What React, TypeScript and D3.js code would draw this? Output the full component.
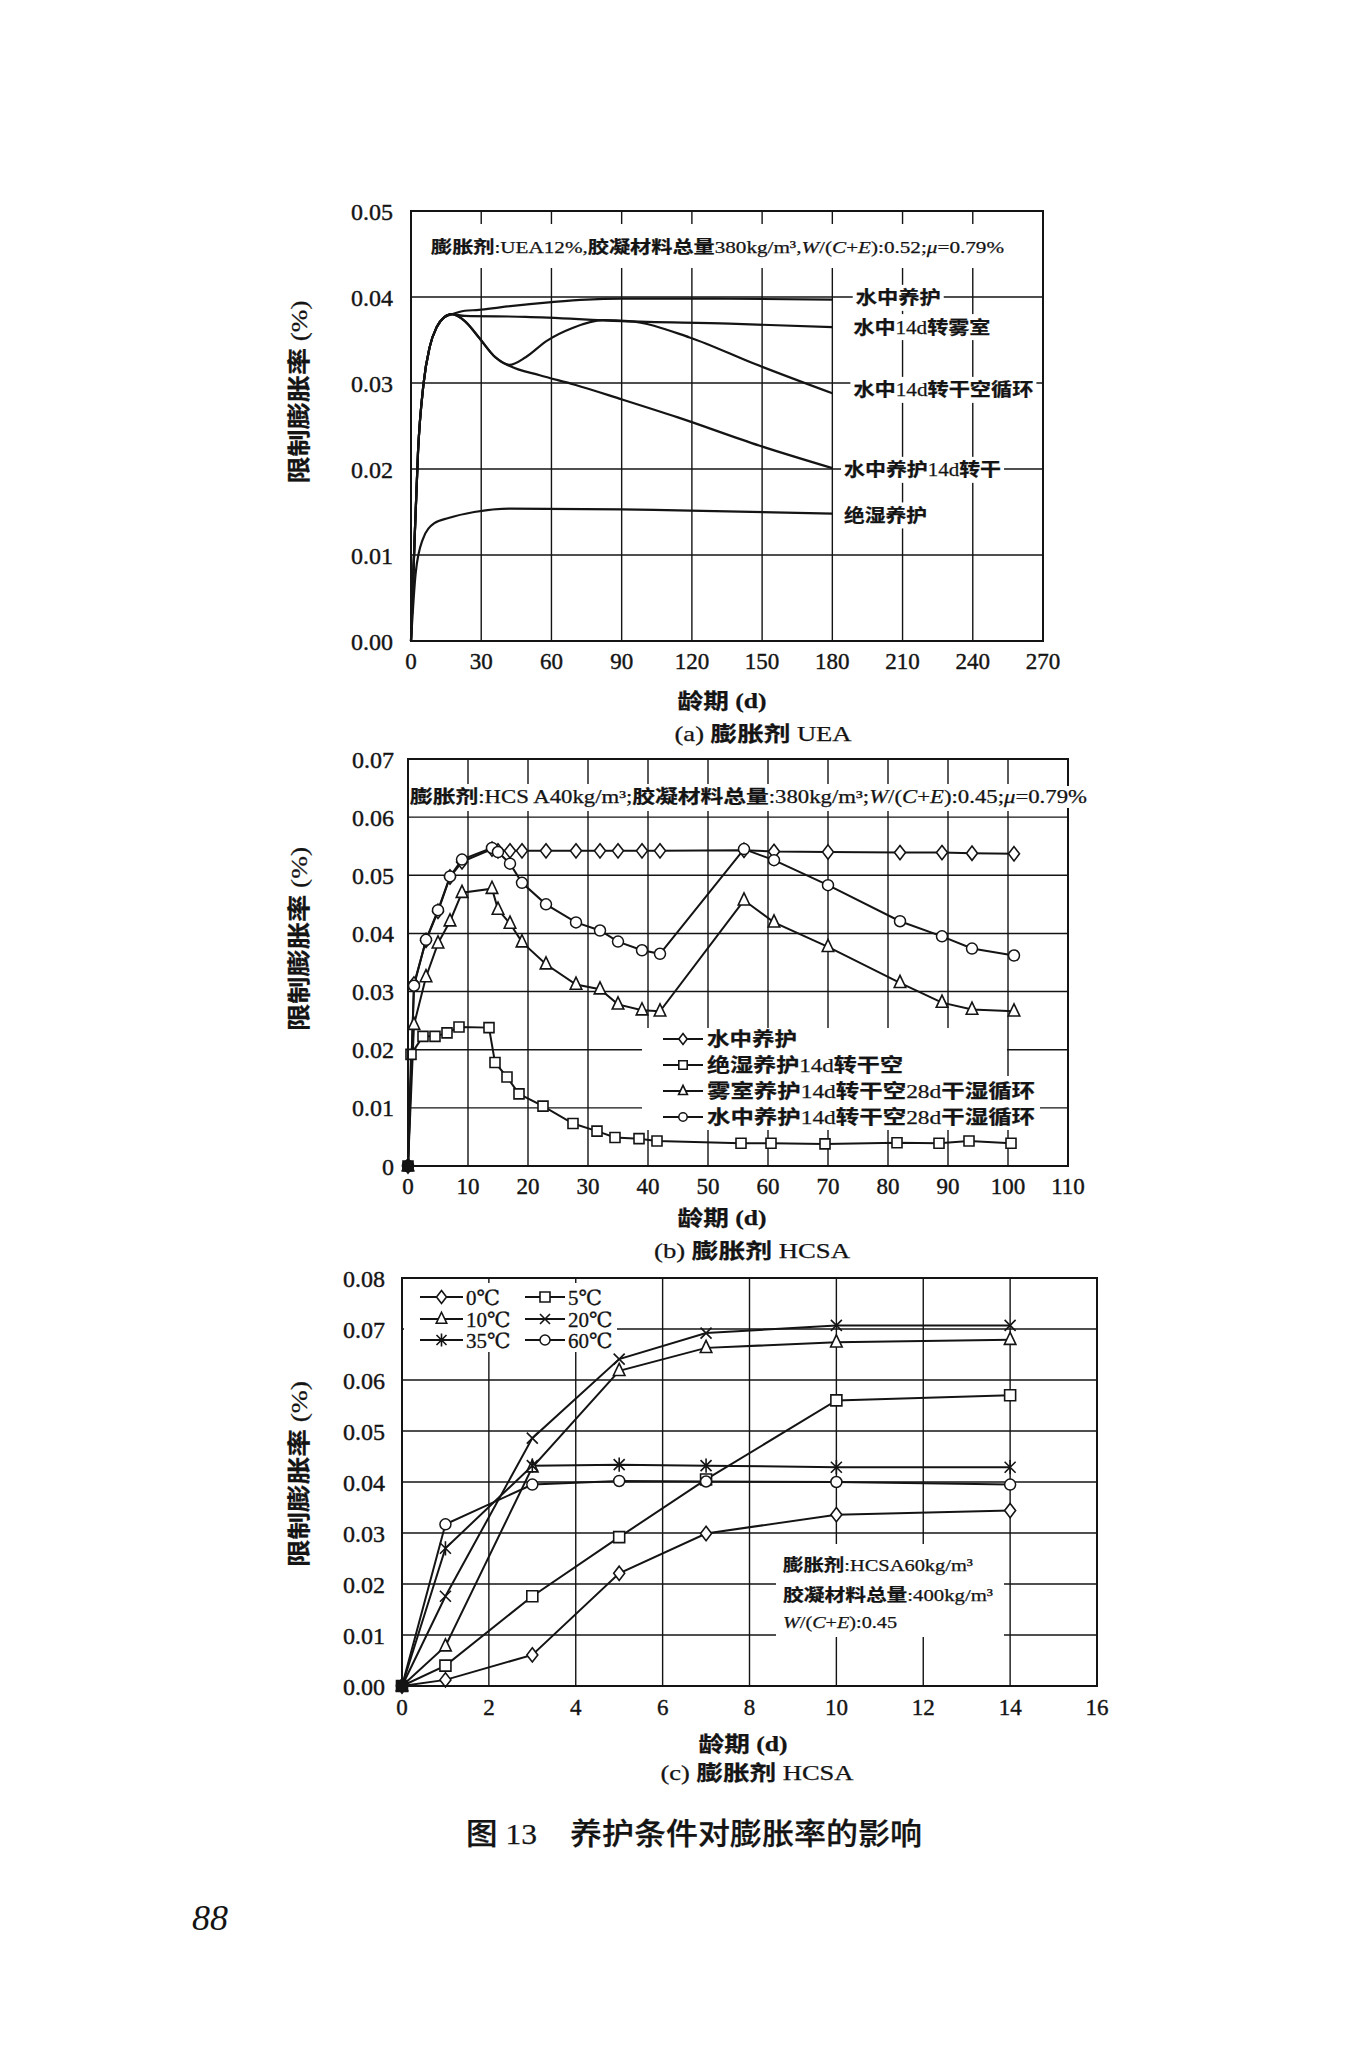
import * as d3 from 'd3';

// ---------- chart (a) UEA ----------
const aXTicks = [0, 30, 60, 90, 120, 150, 180, 210, 240, 270];
const aYTicks = [0, 0.01, 0.02, 0.03, 0.04, 0.05];

const aWaterDays = [0, 1.3, 3, 5.4, 8, 11, 14, 17.5, 23, 29, 38, 60, 75, 90, 130, 180];
const aWaterVals = [0, 0.01, 0.022, 0.03, 0.0342, 0.0365, 0.0376, 0.038, 0.0384, 0.0385, 0.0388, 0.0394, 0.0397, 0.0398, 0.0398, 0.0397];
const aFogDays = [0, 1.3, 3, 5.4, 8, 11, 14, 17.5, 23, 49, 90, 136, 180];
const aFogVals = [0, 0.01, 0.022, 0.03, 0.0342, 0.0365, 0.0376, 0.038, 0.0378, 0.0377, 0.0372, 0.0369, 0.0365];
const aCycleDays = [0, 1.3, 3, 5.4, 8, 11, 14, 17.5, 23, 29, 36, 42, 49, 58, 69, 82, 93, 119, 147, 180];
const aCycleVals = [0, 0.01, 0.022, 0.03, 0.0342, 0.0365, 0.0376, 0.038, 0.0372, 0.0353, 0.033, 0.0321, 0.033, 0.0349, 0.0364, 0.0373, 0.0372, 0.0353, 0.0322, 0.0288];
const aDryDays = [0, 1.3, 3, 5.4, 8, 11, 14, 17.5, 23, 29, 36, 42, 55, 70, 90, 114, 149, 180];
const aDryVals = [0, 0.01, 0.022, 0.03, 0.0342, 0.0365, 0.0376, 0.038, 0.0372, 0.0353, 0.033, 0.032, 0.0309, 0.0298, 0.0281, 0.026, 0.0227, 0.0201];
const aSealDays = [0, 2, 5, 10, 16, 27, 42, 90, 114, 180];
const aSealVals = [0, 0.0079, 0.0118, 0.0137, 0.0143, 0.015, 0.0154, 0.0153, 0.0152, 0.0148];

const aNames = ['水中养护', '水中14d转雾室', '水中14d转干空循环', '水中养护14d转干', '绝湿养护'];

// ---------- chart (b) HCSA 40 ----------
const bXTicks = [0, 10, 20, 30, 40, 50, 60, 70, 80, 90, 100, 110];
const bYTicks = [0, 0.01, 0.02, 0.03, 0.04, 0.05, 0.06, 0.07];

const bDays = [0, 1, 3, 5, 7, 9, 14, 15, 17, 19, 23, 28, 32, 35, 39, 42, 56, 61, 70, 82, 89, 94, 101];
const bWater = [0, 0.0313, 0.0388, 0.0438, 0.0497, 0.0523, 0.0545, 0.0542, 0.0542, 0.0542, 0.0542, 0.0542, 0.0542, 0.0542, 0.0542, 0.0542, 0.0543, 0.0541, 0.054, 0.0539, 0.0539, 0.0538, 0.0537];
const bWaterCycle = [0, 0.031, 0.0389, 0.044, 0.0498, 0.0527, 0.0547, 0.054, 0.052, 0.0487, 0.045, 0.0419, 0.0405, 0.0386, 0.0371, 0.0365, 0.0545, 0.0526, 0.0483, 0.0421, 0.0395, 0.0374, 0.0362];
const bFogCycle = [0, 0.0243, 0.0325, 0.0383, 0.0421, 0.047, 0.0477, 0.0441, 0.0417, 0.0385, 0.0347, 0.0312, 0.0304, 0.0278, 0.0268, 0.0266, 0.0457, 0.0419, 0.0377, 0.0315, 0.0281, 0.0269, 0.0266];
const bSealDays = [0, 0.5, 2.5, 4.5, 6.5, 8.5, 13.5, 14.5, 16.5, 18.5, 22.5, 27.5, 31.5, 34.5, 38.5, 41.5, 55.5, 60.5, 69.5, 81.5, 88.5, 93.5, 100.5];
const bSealDry = [0, 0.0192, 0.0223, 0.0223, 0.0229, 0.0239, 0.0238, 0.0178, 0.0153, 0.0124, 0.0103, 0.0073, 0.006, 0.0049, 0.0047, 0.0043, 0.0039, 0.0039, 0.0038, 0.004, 0.0039, 0.0043, 0.0039];

const bNames = ['水中养护', '绝湿养护14d转干空', '雾室养护14d转干空28d干湿循环', '水中养护14d转干空28d干湿循环'];

// ---------- chart (c) HCSA 60, temperature ----------
const cXTicks = [0, 2, 4, 6, 8, 10, 12, 14, 16];
const cYTicks = [0, 0.01, 0.02, 0.03, 0.04, 0.05, 0.06, 0.07, 0.08];
const cDays = [0, 1, 3, 5, 7, 10, 14];
const c0 = [0, 0.0012, 0.0061, 0.0221, 0.0299, 0.0336, 0.0344];
const c5 = [0, 0.004, 0.0176, 0.0292, 0.0405, 0.056, 0.057];
const c10 = [0, 0.0078, 0.0429, 0.0618, 0.0663, 0.0674, 0.0679];
const c20 = [0, 0.0176, 0.0486, 0.0641, 0.0692, 0.0707, 0.0707];
const c35 = [0, 0.027, 0.0432, 0.0434, 0.0432, 0.0429, 0.0429];
const c60 = [0, 0.0317, 0.0395, 0.0402, 0.0401, 0.04, 0.0395];
const cNames = ['0℃', '5℃', '10℃', '20℃', '35℃', '60℃'];

const INK = '#141414';
const CJK_RE = /[\u3000-\u303f\u4e00-\u9fff\uff00-\uffef]/;

// "_x_" marks italic, CJK runs go bold sans, the rest Times-like serif
function rich(text: string, cjkWeight = 700, latinWeight = 400) {
  const out: any[] = [];
  text.split('_').forEach((seg, i) => {
    const italic = i % 2 === 1;
    const parts = seg.match(/[\u3000-\u303f\u4e00-\u9fff\uff00-\uffef]+|[^\u3000-\u303f\u4e00-\u9fff\uff00-\uffef]+/g) || [];
    parts.forEach((p, j) => {
      const cjk = CJK_RE.test(p);
      out.push(
        <tspan
          key={`${i}-${j}`}
          fontFamily={cjk ? '"Noto Sans CJK SC"' : '"Liberation Serif", "DejaVu Serif"'}
          fontWeight={cjk ? cjkWeight : latinWeight}
          fontStyle={italic ? 'italic' : 'normal'}
        >
          {p}
        </tspan>
      );
    });
  });
  return out;
}

function Txt({ x, y, text, size, w, anchor = 'start', weight = 700, lw = 400, rot = false }: any) {
  return (
    <text
      x={x}
      y={y}
      dy="0.36em"
      fontSize={size}
      fill={INK}
      stroke={INK}
      strokeWidth={0.25}
      textAnchor={anchor}
      textLength={w}
      lengthAdjust="spacingAndGlyphs"
      transform={rot ? `rotate(-90 ${x} ${y})` : undefined}
    >
      {rich(text, weight, lw)}
    </text>
  );
}

function markerPath(kind: string, cx: number, cy: number, s: number) {
  switch (kind) {
    case 'diamond':
      return `M${cx},${cy - s * 1.3}L${cx + s},${cy}L${cx},${cy + s * 1.3}L${cx - s},${cy}Z`;
    case 'square':
      return `M${cx - s},${cy - s}h${2 * s}v${2 * s}h${-2 * s}Z`;
    case 'triangle':
      return `M${cx},${cy - s * 1.35}L${cx + s * 1.05},${cy + s * 0.85}L${cx - s * 1.05},${cy + s * 0.85}Z`;
    case 'x':
      return `M${cx - s},${cy - s}L${cx + s},${cy + s}M${cx - s},${cy + s}L${cx + s},${cy - s}`;
    case 'star':
      return `M${cx - s},${cy - s}L${cx + s},${cy + s}M${cx - s},${cy + s}L${cx + s},${cy - s}M${cx},${cy - s * 1.3}L${cx},${cy + s * 1.3}`;
    default:
      return '';
  }
}

function Marker({ kind, cx, cy, s = 5.5, filled = false }: any) {
  const fill = filled ? INK : '#fff';
  if (kind === 'circle') return <circle cx={cx} cy={cy} r={s} fill={fill} stroke={INK} strokeWidth={1.5} />;
  const open = kind === 'x' || kind === 'star';
  return <path d={markerPath(kind, cx, cy, s)} fill={open ? 'none' : fill} stroke={INK} strokeWidth={1.6} />;
}

function Frame({ x, y, xTicks, yTicks, yFmt, yLabRight, xLabY, tickSize = 23 }: any) {
  const [l, r] = x.range();
  const [b, t] = y.range();
  return (
    <g>
      {xTicks.map((d: number) => (
        <line key={'vx' + d} x1={x(d)} x2={x(d)} y1={t} y2={b} stroke={INK} strokeWidth={1.4} />
      ))}
      {yTicks.map((d: number) => (
        <line key={'hy' + d} x1={l} x2={r} y1={y(d)} y2={y(d)} stroke={INK} strokeWidth={1.4} />
      ))}
      {xTicks.map((d: number) => (
        <text key={'xl' + d} x={x(d)} y={xLabY} dy="0.36em" textAnchor="middle" fontSize={tickSize}
          fontFamily='"Liberation Serif"' fill={INK} stroke={INK} strokeWidth={0.4}>{d}</text>
      ))}
      {yTicks.map((d: number) => (
        <text key={'yl' + d} x={yLabRight} y={y(d)} dy="0.36em" textAnchor="end" fontSize={24}
          fontFamily='"Liberation Serif"' fill={INK} stroke={INK} strokeWidth={0.4}>{yFmt(d)}</text>
      ))}
    </g>
  );
}

function Border({ x, y }: any) {
  const [l, r] = x.range();
  const [b, t] = y.range();
  return <rect x={l} y={t} width={r - l} height={b - t} fill="none" stroke={INK} strokeWidth={2} />;
}

export default function App() {
  const f2 = d3.format('.2f');

  // (a)
  const ax = d3.scaleLinear().domain([0, 270]).range([411, 1043]);
  const ay = d3.scaleLinear().domain([0, 0.05]).range([641, 211]);
  const aLine = d3.line<[number, number]>().x(d => ax(d[0])).y(d => ay(d[1])).curve(d3.curveMonotoneX);
  const aSeries = [
    [aWaterDays, aWaterVals],
    [aFogDays, aFogVals],
    [aCycleDays, aCycleVals],
    [aDryDays, aDryVals],
    [aSealDays, aSealVals],
  ];
  // label anchor values (day, value) and text widths
  const aLabPos = [[190, 0.0399, 85], [189, 0.0365, 137], [189, 0.0292, 180], [185, 0.0199, 157], [185, 0.0146, 83]];

  // (b)
  const bx = d3.scaleLinear().domain([0, 110]).range([408, 1068]);
  const by = d3.scaleLinear().domain([0, 0.07]).range([1166, 759]);
  const bLine = d3.line<[number, number]>().x(d => bx(d[0])).y(d => by(d[1]));
  const bSeries = [
    { days: bDays, vals: bWater, m: 'diamond' },
    { days: bSealDays, vals: bSealDry, m: 'square' },
    { days: bDays, vals: bFogCycle, m: 'triangle' },
    { days: bDays, vals: bWaterCycle, m: 'circle' },
  ];

  // (c)
  const cx = d3.scaleLinear().domain([0, 16]).range([402, 1097]);
  const cy = d3.scaleLinear().domain([0, 0.08]).range([1686, 1278]);
  const cLine = d3.line<[number, number]>().x(d => cx(d[0])).y(d => cy(d[1]));
  const cSeries = [
    { vals: c0, m: 'diamond' },
    { vals: c5, m: 'square' },
    { vals: c10, m: 'triangle' },
    { vals: c20, m: 'x' },
    { vals: c35, m: 'star' },
    { vals: c60, m: 'circle' },
  ];

  return (
    <svg width={1365} height={2048} style={{ position: 'absolute', left: 0, top: 0, background: '#fff' }}>
      <rect width={1365} height={2048} fill="#fff" />

      {/* ---------------- (a) ---------------- */}
      <Frame x={ax} y={ay} xTicks={aXTicks} yTicks={aYTicks} yFmt={f2} yLabRight={393} xLabY={661} />
      <rect x={413} y={224} width={628} height={44} fill="#fff" />
      {aLabPos.map((p, i) => (
        <rect key={'alb' + i} x={ax(p[0]) - 3} y={ay(p[1]) - 13} width={p[2] + 6} height={26} fill="#fff" />
      ))}
      {aSeries.map((s, i) => (
        <path key={'as' + i} d={aLine(s[0].map((d, k) => [d, s[1][k]]) as any) || ''} fill="none" stroke={INK} strokeWidth={2.2} />
      ))}
      <Border x={ax} y={ay} />
      <Txt x={431} y={247} size={17} w={573} text="膨胀剂:UEA12%,胶凝材料总量380kg/m³,_W_/(_C_+_E_):0.52;_μ_=0.79%" />
      {aLabPos.map((p, i) => (
        <Txt key={'al' + i} x={ax(p[0])} y={ay(p[1])} size={18} w={p[2]} text={aNames[i]} />
      ))}
      <Txt x={299} y={392} size={23} w={183} anchor="middle" rot text="限制膨胀率 (%)" lw={400} />
      <Txt x={722} y={700} size={21} w={89} anchor="middle" text="龄期 (d)" lw={700} />
      <Txt x={763} y={733} size={21} w={177} anchor="middle" text="(a) 膨胀剂 UEA" />

      {/* ---------------- (b) ---------------- */}
      <Frame x={bx} y={by} xTicks={bXTicks} yTicks={bYTicks} yFmt={(d: number) => (d === 0 ? '0' : f2(d))} yLabRight={394} xLabY={1186} />
      <rect x={409} y={784} width={679} height={27} fill="#fff" />
      <rect x={642} y={1028} width={365} height={102} fill="#fff" />
      <rect x={1007} y={1076} width={33} height={54} fill="#fff" />
      {bSeries.map((s, i) => (
        <path key={'bs' + i} d={bLine(s.days.map((d, k) => [d, s.vals[k]]) as any) || ''} fill="none" stroke={INK} strokeWidth={2} />
      ))}
      {bSeries.map((s, i) =>
        s.days.map((d, k) => (
          <Marker key={`bm${i}-${k}`} kind={s.m} cx={bx(d)} cy={by(s.vals[k])} s={s.m === 'square' ? 5 : 5.5} filled={d === 0} />
        ))
      )}
      <Border x={bx} y={by} />
      <rect x={1062} y={786} width={26} height={22} fill="#fff" />
      <Txt x={410} y={797} size={18} w={677} text="膨胀剂:HCS A40kg/m³;胶凝材料总量:380kg/m³;_W_/(_C_+_E_):0.45;_μ_=0.79%" />
      {bSeries.map((s, i) => {
        const yy = [1039, 1065, 1091, 1117][i];
        const ww = [90, 196, 328, 328][i];
        return (
          <g key={'bl' + i}>
            <line x1={663} x2={703} y1={yy} y2={yy} stroke={INK} strokeWidth={2.2} />
            <Marker kind={s.m} cx={683} cy={yy} s={4.2} />
            <Txt x={707} y={yy} size={19} w={ww} text={bNames[i]} />
          </g>
        );
      })}
      <Txt x={299} y={939} size={23} w={184} anchor="middle" rot text="限制膨胀率 (%)" />
      <Txt x={722} y={1217} size={21} w={89} anchor="middle" text="龄期 (d)" lw={700} />
      <Txt x={752} y={1250} size={21} w={196} anchor="middle" text="(b) 膨胀剂 HCSA" />

      {/* ---------------- (c) ---------------- */}
      <Frame x={cx} y={cy} xTicks={cXTicks} yTicks={cYTicks} yFmt={f2} yLabRight={385} xLabY={1707} />
      <rect x={404} y={1283} width={213} height={69} fill="#fff" />
      <rect x={776} y={1544} width={228} height={93} fill="#fff" />
      {cSeries.map((s, i) => (
        <path key={'cs' + i} d={cLine(cDays.map((d, k) => [d, s.vals[k]]) as any) || ''} fill="none" stroke={INK} strokeWidth={2} />
      ))}
      {cSeries.map((s, i) =>
        cDays.map((d, k) => (
          <Marker key={`cm${i}-${k}`} kind={s.m} cx={cx(d)} cy={cy(s.vals[k])} s={5.5} filled={d === 0} />
        ))
      )}
      <Border x={cx} y={cy} />
      {cSeries.map((s, i) => {
        const col = i % 2;
        const row = Math.floor(i / 2);
        const yy = [1297, 1319, 1340][row];
        const lx = col === 0 ? [420, 463] : [525, 565];
        return (
          <g key={'cl' + i}>
            <line x1={lx[0]} x2={lx[1]} y1={yy} y2={yy} stroke={INK} strokeWidth={2} />
            <Marker kind={s.m} cx={(lx[0] + lx[1]) / 2} cy={yy} s={5} />
            <text x={lx[1] + 3} y={yy} dy="0.36em" fontSize={21} fontFamily='"Liberation Serif", "DejaVu Serif"'
              fill={INK} stroke={INK} strokeWidth={0.3}>
              {cNames[i]}
            </text>
          </g>
        );
      })}
      <Txt x={783} y={1565} size={17} w={190} text="膨胀剂:HCSA60kg/m³" />
      <Txt x={783} y={1595} size={17} w={210} text="胶凝材料总量:400kg/m³" />
      <Txt x={783} y={1622} size={17} w={114} text="_W_/(_C_+_E_):0.45" />
      <Txt x={299} y={1474} size={23} w={186} anchor="middle" rot text="限制膨胀率 (%)" />
      <Txt x={743} y={1743} size={21} w={89} anchor="middle" text="龄期 (d)" lw={700} />
      <Txt x={757} y={1772} size={21} w={193} anchor="middle" text="(c) 膨胀剂 HCSA" />

      {/* ---------------- page caption ---------------- */}
      <Txt x={466} y={1833} size={30} w={71} text="图 13" weight={500} />
      <Txt x={570} y={1833} size={30} w={352} text="养护条件对膨胀率的影响" weight={500} />
      <text x={192} y={1917} dy="0.36em" fontSize={36} fontStyle="italic" fontFamily='"Liberation Serif"' fill={INK}>88</text>
    </svg>
  );
}
